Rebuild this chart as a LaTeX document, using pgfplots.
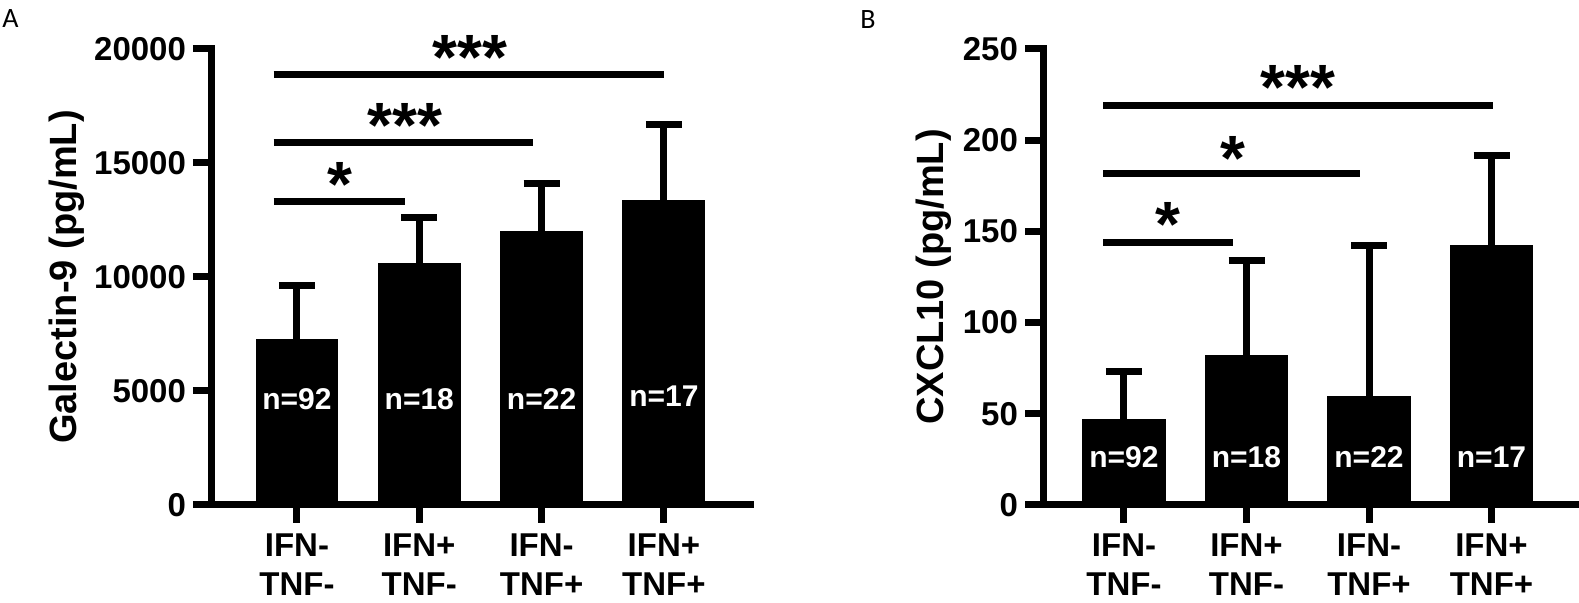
\documentclass[border=0pt]{standalone}
\usepackage{fontspec}
\setmainfont{Liberation Sans}
\newfontfamily\carlito{Carlito}
\usepackage{pgfplots}
\pgfplotsset{compat=1.18}
\pgfplotsset{
  gp/.style={
    scale only axis,
    axis lines=left,
    axis line style={line width=3.5pt, black, -, line cap=rect},
    tick align=outside,
    major tick length=9pt,
    tick style={line width=3.5pt, black},
    minor tick num=0,
    xtick={0,1,2,3},
    xticklabels={{IFN-\\TNF-},{IFN+\\TNF-},{IFN-\\TNF+},{IFN+\\TNF+}},
    xticklabel style={align=center, font=\bfseries\fontsize{16.5}{19.5}\selectfont, inner sep=2pt, yshift=-3pt},
    yticklabel style={font=\bfseries\fontsize{16.5}{16.5}\selectfont},
    ylabel style={anchor=south, inner sep=0pt, font=\bfseries\fontsize{19}{19}\selectfont},
    scaled y ticks=false,
    ymin=0,
    clip=false,
  },
  bars/.style={ybar, bar width=0.67, bar shift=0pt, fill=black, draw=black, line width=0.5pt,
    error bars/.cd, y dir=plus, y explicit,
    error bar style={line width=3.5pt, black},
    error mark options={rotate=90, line width=3.5pt, mark size=9pt, black}},
  sig/.style={line width=3.5pt, black},
}
\tikzset{
  star/.style={anchor=north, inner sep=0pt, font=\bfseries\fontsize{32}{32}\selectfont},
  nlab/.style={anchor=base, inner sep=0pt, text=white, font=\bfseries\fontsize{15}{15}\selectfont},
  plab/.style={anchor=base west, inner sep=0pt, font=\carlito\fontsize{14}{14}\selectfont},
}
\pgfplotstableread{
x y e
0 7250 2380
1 10600 2020
2 12000 2100
3 13350 3320
}\galtab
\pgfplotstableread{
x y e
0 46.6 26.8
1 81.8 52.2
2 59.5 82.5
3 142.0 49.5
}\cxtab
\begin{document}
\begin{tikzpicture}
\begin{axis}[gp, at={(105.5pt,49pt)}, anchor=south west, width=269.5pt, height=228pt,
  xmin=-0.703, xmax=3.704, ymax=20000,
  ytick={0,5000,10000,15000,20000}, yticklabels={0,5000,10000,15000,20000},
  ylabel={Galectin-9 (pg/mL)},
  ylabel style={at={(axis description cs:-0.234,0.5)}}]
\addplot[bars] table[x=x, y=y, y error=e] {\galtab};
\addplot[sig] coordinates {(-0.19,13300) (0.883,13300)};
\addplot[sig] coordinates {(-0.19,15890) (1.93,15890)};
\addplot[sig] coordinates {(-0.19,18890) (3.0,18890)};
\node[star] at (axis cs:0.352,15044) {*};
\node[star] at (axis cs:0.883,17632) {***};
\node[star] at (axis cs:1.415,20614) {***};
\node[nlab] at (axis cs:0,4210) {n=92};
\node[nlab] at (axis cs:1,4210) {n=18};
\node[nlab] at (axis cs:2,4210) {n=22};
\node[nlab] at (axis cs:3,4300) {n=17};
\end{axis}
\begin{axis}[gp, at={(521.5pt,49pt)}, anchor=south west, width=267.5pt, height=228pt,
  xmin=-0.661, xmax=3.706, ymax=250,
  ytick={0,50,100,150,200,250}, yticklabels={0,50,100,150,200,250},
  ylabel={CXCL10 (pg/mL)},
  ylabel style={at={(axis description cs:-0.170,0.5)}}]
\addplot[bars] table[x=x, y=y, y error=e] {\cxtab};
\addplot[sig] coordinates {(-0.17,144.0) (0.89,144.0)};
\addplot[sig] coordinates {(-0.17,181.5) (1.93,181.5)};
\addplot[sig] coordinates {(-0.17,218.9) (3.01,218.9)};
\node[star] at (axis cs:0.36,166.1) {*};
\node[star] at (axis cs:0.89,202.3) {*};
\node[star] at (axis cs:1.42,241.2) {***};
\node[nlab] at (axis cs:0,20.8) {n=92};
\node[nlab] at (axis cs:1,20.8) {n=18};
\node[nlab] at (axis cs:2,20.8) {n=22};
\node[nlab] at (axis cs:3,20.8) {n=17};
\end{axis}
\node[plab] at (1pt,287.5pt) {A};
\node[plab] at (430pt,287pt) {B};
\pgfresetboundingbox
\path[use as bounding box] (0,0) rectangle (789.5pt,301.5pt);
\end{tikzpicture}
\end{document}
